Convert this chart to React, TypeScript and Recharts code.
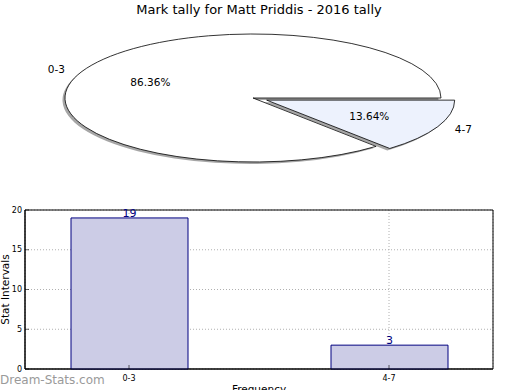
import {
  Bar,
  BarChart,
  CartesianGrid,
  Cell,
  LabelList,
  Pie,
  PieChart,
  ReferenceArea,
  XAxis,
  YAxis,
} from "recharts";

const categories = ["0-3", "4-7"];
const counts = [19, 3];
const yTicks = [0, 5, 10, 15, 20];
const xTicks = [0, 1];

const pieData = categories.map((name, i) => ({ name, value: counts[i] }));
const barData = categories.map((name, i) => ({ x: i, name, value: counts[i] }));

const sliceColors = ["#ffffff", "#edf2fd"];
const explode = [0, 0.08];

const RX = 188;
const RY = 64;
const RAD = Math.PI / 180;
const FONT = "DejaVu Sans, sans-serif";

function shift(i: number, mid: number) {
  const e = explode[i] ?? 0;
  return [RX * e * Math.cos(mid * RAD), -RY * e * Math.sin(mid * RAD)];
}

function slicePath(cx: number, cy: number, a0: number, a1: number) {
  const x0 = cx + RX * Math.cos(a0 * RAD);
  const y0 = cy - RY * Math.sin(a0 * RAD);
  const x1 = cx + RX * Math.cos(a1 * RAD);
  const y1 = cy - RY * Math.sin(a1 * RAD);
  const large = Math.abs(a1 - a0) > 180 ? 1 : 0;
  return `M${cx},${cy} L${x0},${y0} A${RX},${RY} 0 ${large} 0 ${x1},${y1} Z`;
}

function EllipseSlice(props: any) {
  const { cx, cy, startAngle, endAngle } = props;
  const name = props.payload?.name ?? props.name;
  const i = categories.indexOf(name);
  const mid = (startAngle + endAngle) / 2;
  const [dx, dy] = shift(i, mid);
  const d = slicePath(cx + dx, cy + dy, startAngle, endAngle);
  return (
    <g>
      <path d={d} transform="translate(-2.5,2)" fill="#4d4d4d" fillOpacity={0.5} stroke="none" />
      <path d={d} fill={sliceColors[i]} stroke="#000" strokeWidth={0.8} />
    </g>
  );
}

function SliceLabel(props: any) {
  const { cx, cy, midAngle, percent, name } = props;
  const i = categories.indexOf(name);
  const [dx, dy] = shift(i, midAngle);
  const c = Math.cos(midAngle * RAD);
  const s = Math.sin(midAngle * RAD);
  const lx = cx + dx + 1.1 * RX * c;
  const ly = cy + dy - 1.1 * RY * s;
  const px = cx + dx + 0.6 * RX * c;
  const py = cy + dy - 0.6 * RY * s;
  return (
    <g fontFamily={FONT} fontSize={10.5} fill="#000">
      <text x={lx} y={ly} textAnchor={c < 0 ? "end" : "start"} dominantBaseline="central">
        {name}
      </text>
      <text x={px} y={py} textAnchor="middle" dominantBaseline="central">
        {(percent * 100).toFixed(2)}%
      </text>
    </g>
  );
}

function YTick({ x, y, payload }: any) {
  return (
    <g>
      <line x1={x} x2={x + 4} y1={y} y2={y} stroke="#000" strokeWidth={0.6} />
      <text x={x - 3} y={y} textAnchor="end" dominantBaseline="central" fontSize={8} fontFamily={FONT} fill="#000">
        {payload.value}
      </text>
    </g>
  );
}

function XTick({ x, y, payload }: any) {
  return (
    <g>
      <line x1={x} x2={x} y1={y} y2={y - 4} stroke="#000" strokeWidth={0.6} />
      <text x={x} y={y + 9} textAnchor="middle" dominantBaseline="central" fontSize={8} fontFamily={FONT} fill="#000">
        {categories[payload.value]}
      </text>
    </g>
  );
}

export default function App() {
  return (
    <div style={{ position: "absolute", left: 0, top: 0, width: 520, height: 390, background: "#fff", overflow: "hidden" }}>
      <div
        style={{
          position: "absolute",
          top: 2,
          left: 0,
          width: 518,
          textAlign: "center",
          fontFamily: FONT,
          fontSize: 13,
          lineHeight: "16px",
          color: "#000",
        }}
      >
        Mark tally for Matt Priddis - 2016 tally
      </div>

      <div style={{ position: "absolute", left: 0, top: 0 }}>
        <PieChart width={520} height={185} margin={{ top: 0, right: 0, bottom: 0, left: 0 }}>
          <Pie
            data={pieData}
            dataKey="value"
            nameKey="name"
            cx={253}
            cy={98}
            outerRadius={RX}
            startAngle={0}
            endAngle={360}
            shape={EllipseSlice}
            label={SliceLabel}
            labelLine={false}
            isAnimationActive={false}
          >
            {pieData.map((d, i) => (
              <Cell key={d.name} fill={sliceColors[i]} />
            ))}
          </Pie>
        </PieChart>
      </div>

      <div style={{ position: "absolute", left: 0, top: 200 }}>
        <BarChart width={520} height={190} data={barData} margin={{ top: 10, right: 27, bottom: 0, left: 0 }}>
          <CartesianGrid stroke="#b0b0b0" strokeDasharray="1 2" />
          <XAxis
            dataKey="x"
            type="number"
            domain={[-0.4, 1.4]}
            ticks={xTicks}
            allowDataOverflow
            height={21}
            tickSize={0}
            tickMargin={0}
            tickLine={false}
            axisLine={{ stroke: "#000" }}
            tick={<XTick />}
            label={{ value: "Frequency", position: "center", dy: 10, fontSize: 10.5, fontFamily: FONT, fill: "#000" }}
          />
          <YAxis
            domain={[0, 20]}
            ticks={yTicks}
            width={25}
            tickSize={0}
            tickMargin={0}
            tickLine={false}
            axisLine={{ stroke: "#000" }}
            tick={<YTick />}
            label={{ value: "Stat Intervals", angle: -90, position: "center", dx: -7, fontSize: 10.5, fontFamily: FONT, fill: "#000" }}
          />
          <ReferenceArea x1={-0.4} x2={1.4} y1={0} y2={20} fill="none" stroke="#000" strokeWidth={1} />
          <Bar dataKey="value" barSize={117} fill="#cccce6" stroke="#000080" strokeWidth={1} isAnimationActive={false}>
            <LabelList dataKey="value" position="top" offset={1} fill="#000080" fontSize={11} fontFamily={FONT} />
          </Bar>
        </BarChart>
      </div>

      <div
        style={{
          position: "absolute",
          left: 0,
          top: 372,
          fontFamily: FONT,
          fontSize: 12,
          lineHeight: "16px",
          color: "#9a9a9a",
        }}
      >
        Dream-Stats.com
      </div>
    </div>
  );
}
